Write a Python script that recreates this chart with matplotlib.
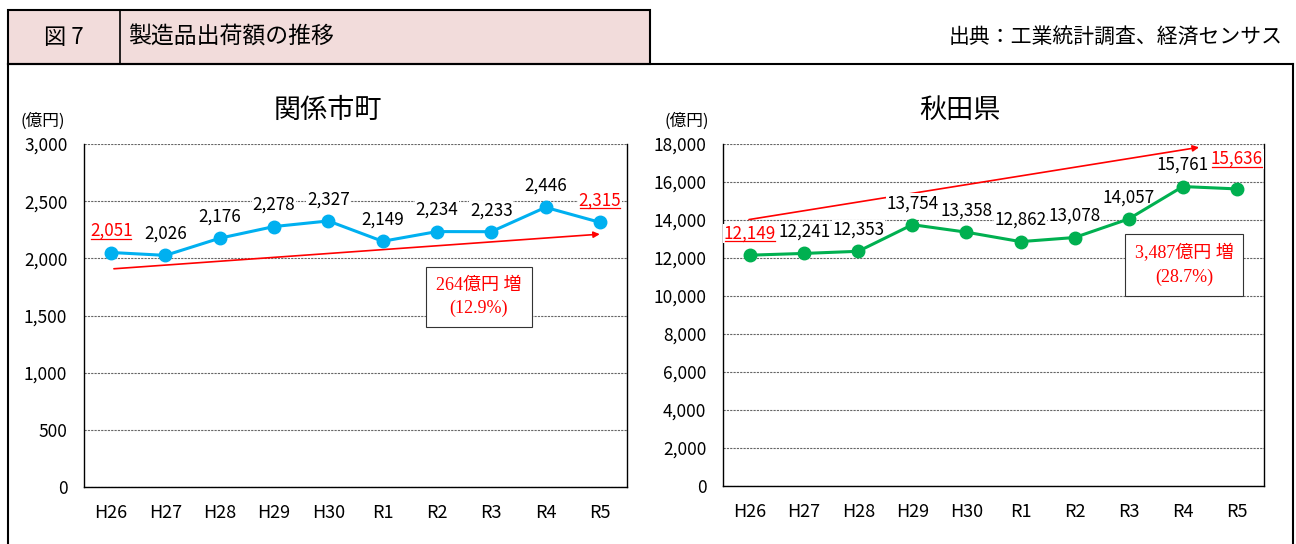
import matplotlib.pyplot as plt
from matplotlib.lines import Line2D
from matplotlib.patches import Rectangle, FancyArrowPatch
from matplotlib.ticker import FuncFormatter, MultipleLocator

plt.rcParams["font.family"] = ["Noto Sans CJK JP", "DejaVu Sans"]

# data
years = ["H26", "H27", "H28", "H29", "H30", "R1", "R2", "R3", "R4", "R5"]
local_values = [2051, 2026, 2176, 2278, 2327, 2149, 2234, 2233, 2446, 2315]
akita_values = [12149, 12241, 12353, 13754, 13358, 12862, 13078, 14057, 15761, 15636]

local_title = "関係市町"
akita_title = "秋田県"
local_note = ["264億円 増", "(12.9%)"]
akita_note = ["3,487億円 増", "(28.7%)"]

# trend arrows (category index, value)
local_arrow = [(0.0, 1907), (9.05, 2213)]
akita_arrow = [(-0.07, 14000), (8.35, 17850)]

W, H = 1296, 544
fig = plt.figure(figsize=(W / 100, H / 100), dpi=100)


def fx(x):
    return x / W


def fy(y):
    return 1 - y / H


# header frame
fig.add_artist(Rectangle((fx(8), fy(64)), fx(642), 54 / H, facecolor="#F2DCDB",
                         edgecolor="black", linewidth=1.5, transform=fig.transFigure))
fig.add_artist(Line2D([fx(120), fx(120)], [fy(10), fy(64)], color="black", lw=1.2))
fig.add_artist(Line2D([fx(8), fx(1293)], [fy(64), fy(64)], color="black", lw=1.5))
fig.add_artist(Line2D([fx(8), fx(8)], [fy(64), 0], color="black", lw=1.5))
fig.add_artist(Line2D([fx(1293), fx(1293)], [fy(64), 0], color="black", lw=1.5))
fig.text(fx(64), fy(37), "図 7", fontsize=16, ha="center", va="center")
fig.text(fx(128), fy(37), "製造品出荷額の推移", fontsize=16.5, ha="left", va="center")
fig.text(fx(1283), fy(37), "出典：工業統計調査、経済センサス", fontsize=15, ha="right", va="center")


def draw_panel(rect, values, title, title_x, unit_x, ymax, step, color, arrow, note, note_pos,
               last_offset=9):
    ax = fig.add_axes(rect)
    x = list(range(len(values)))
    ax.plot(x, values, color=color, lw=2.2, marker="o", markersize=9, zorder=4)
    ax.set_xlim(-0.5, len(values) - 0.5)
    ax.set_ylim(0, ymax)
    ax.yaxis.set_major_locator(MultipleLocator(step))
    ax.yaxis.set_major_formatter(FuncFormatter(lambda v, p: f"{int(v):,}"))
    ax.set_xticks(x, years)
    ax.tick_params(length=0, labelsize=12.5)
    ax.tick_params(axis="x", pad=12, labelsize=13)
    ax.tick_params(axis="y", pad=12)
    ax.set_axisbelow(True)
    ax.grid(axis="y", color="0.4", lw=0.8, ls=(0, (2, 1)))
    ax.spines["top"].set_visible(False)
    for s in ["left", "right", "bottom"]:
        ax.spines[s].set_linewidth(1.0)

    labels = []
    for i, v in enumerate(values):
        edge = i == 0 or i == len(values) - 1
        off = last_offset if i == len(values) - 1 else 9
        t = ax.annotate(f"{v:,}", (i, v), xytext=(0, off),
                        textcoords="offset points", ha="center", va="bottom",
                        fontsize=12.3, color="red" if edge else "black", zorder=3,
                        bbox=dict(facecolor="white", edgecolor="none", pad=0.5))
        labels.append((t, edge))

    ax.add_patch(FancyArrowPatch(arrow[0], arrow[1], arrowstyle="-|>", mutation_scale=9,
                                 color="red", lw=1.2, zorder=2))

    ax.text(note_pos[0], note_pos[1], note[0] + "\n" + note[1], transform=fig.transFigure,
            ha="center", va="center", fontsize=13, color="red", linespacing=1.5,
            family=["Liberation Serif", "Noto Sans CJK JP"],
            bbox=dict(facecolor="white", edgecolor="0.2", lw=0.8, pad=7), zorder=5)

    fig.text(title_x, fy(110), title, fontsize=19.5, ha="center", va="center")
    fig.text(unit_x, fy(121), "(億円)", fontsize=12, ha="left", va="center")
    return labels


left_labels = draw_panel([fx(84), fy(487), fx(627 - 84), (487 - 144) / H], local_values,
                         local_title, fx(328), fx(21), 3000, 500, "#00B0F0",
                         local_arrow, local_note, (fx(479), fy(297)))
right_labels = draw_panel([fx(723), fy(486), fx(1264 - 723), (486 - 144) / H], akita_values,
                          akita_title, fx(960), fx(664), 18000, 2000, "#00B050",
                          akita_arrow, akita_note, (fx(1184), fy(265)), last_offset=15)

# underline the first and last value labels
fig.canvas.draw()
renderer = fig.canvas.get_renderer()
for t, edge in left_labels + right_labels:
    if not edge:
        continue
    bb = t.get_window_extent(renderer)
    y0 = bb.y0 + 1.5
    fig.add_artist(Line2D([bb.x0 / W + 0.001, bb.x1 / W - 0.001], [y0 / H, y0 / H],
                          color="red", lw=0.9))

fig.savefig("out.png", dpi=100)
